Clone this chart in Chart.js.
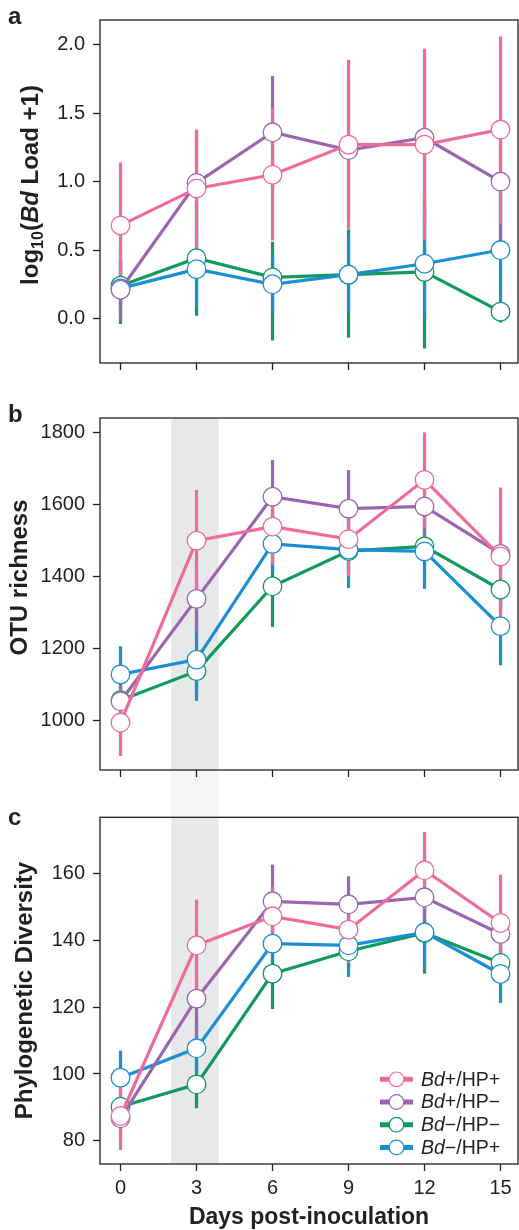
<!DOCTYPE html>
<html>
<head>
<meta charset="utf-8">
<script src="https://cdn.jsdelivr.net/npm/chart.js@4.4.1/dist/chart.umd.min.js"></script>
<style>
  html, body { margin: 0; padding: 0; background: #fff; }
  #wrap { position: relative; width: 519px; height: 1230px; overflow: hidden; }
  canvas { position: absolute; left: 0; }
</style>
</head>
<body>
<div id="wrap">
  <canvas id="chartA" width="519" height="390" style="top:0px"></canvas>
  <canvas id="chartB" width="519" height="400" style="top:390px"></canvas>
  <canvas id="chartC" width="519" height="440" style="top:790px"></canvas>
</div>
<script>
const days = [0, 3, 6, 9, 12, 15];

// series order: Bd+/HP+, Bd+/HP-, Bd-/HP-, Bd-/HP+
const seriesNames = ['Bd+/HP+', 'Bd+/HP\u2212', 'Bd\u2212/HP\u2212', 'Bd\u2212/HP+'];
const legendTail = ['+/HP+', '+/HP\u2212', '\u2212/HP\u2212', '\u2212/HP+'];
const colors = ['#ef6b9b', '#9a66b0', '#109a5d', '#1b8fd2'];
const drawOrder = [0, 1, 3, 2];     // chart.js: lower = on top
const barOrder = [2, 3, 1, 0];      // error bars, first = bottom

// panel a: log10(Bd load + 1)
const aTicks = [0, 0.5, 1.0, 1.5, 2.0];
const aPink = [0.68, 0.95, 1.05, 1.27, 1.27, 1.38];
const aPinkLo = [0.22, 0.51, 0.57, 0.65, 0.57, 0.69];
const aPinkHi = [1.14, 1.38, 1.54, 1.89, 1.97, 2.06];
const aPurple = [0.21, 0.99, 1.36, 1.23, 1.32, 1.00];
const aPurpleLo = [-0.02, 0.61, 0.95, 0.73, 0.72, 0.56];
const aPurpleHi = [0.43, 1.37, 1.77, 1.73, 1.92, 1.45];
const aGreen = [0.24, 0.44, 0.30, 0.32, 0.34, 0.05];
const aGreenLo = [-0.04, 0.02, -0.16, -0.14, -0.22, -0.03];
const aGreenHi = [0.52, 0.85, 0.56, 0.65, 0.89, 0.12];
const aBlue = [0.22, 0.36, 0.25, 0.32, 0.40, 0.50];
const aBlueLo = [0.02, 0.08, 0.04, 0.04, 0.00, 0.09];
const aBlueHi = [0.42, 0.63, 0.47, 0.62, 0.80, 0.91];

// panel b: OTU richness
const bTicks = [1000, 1200, 1400, 1600, 1800];
const bPink = [993, 1499, 1538, 1503, 1668, 1455];
const bPinkLo = [900, 1359, 1432, 1400, 1535, 1263];
const bPinkHi = [1085, 1640, 1644, 1606, 1800, 1647];
const bPurple = [1052, 1337, 1621, 1588, 1594, 1462];
const bPurpleLo = [1007, 1243, 1519, 1481, 1510, 1412];
const bPurpleHi = [1097, 1430, 1723, 1695, 1677, 1512];
const bGreen = [1055, 1136, 1372, 1470, 1483, 1363];
const bGreenLo = [1015, 1086, 1259, 1410, 1428, 1303];
const bGreenHi = [1095, 1186, 1485, 1530, 1538, 1423];
const bBlue = [1127, 1168, 1490, 1474, 1469, 1261];
const bBlueLo = [1049, 1053, 1410, 1367, 1365, 1152];
const bBlueHi = [1205, 1283, 1570, 1580, 1572, 1370];

// panel c: phylogenetic diversity
const cTicks = [80, 100, 120, 140, 160];
const cPink = [87.4, 138.6, 147.3, 143.3, 161.1, 145.3];
const cPinkLo = [77.2, 124.9, 138.5, 133.3, 149.6, 130.8];
const cPinkHi = [97.6, 152.3, 156.1, 153.3, 172.6, 159.8];
const cPurple = [86.7, 122.6, 151.8, 150.9, 153.0, 142.0];
const cPurpleLo = [81.7, 110.2, 140.8, 142.5, 145.0, 136.0];
const cPurpleHi = [91.7, 135.0, 162.8, 159.3, 161.0, 148.0];
const cGreen = [90.2, 96.9, 130.1, 136.8, 142.3, 133.3];
const cGreenLo = [86.2, 89.7, 119.5, 131.8, 130.1, 128.3];
const cGreenHi = [94.2, 104.1, 140.7, 141.8, 154.5, 138.3];
const cBlue = [98.9, 107.7, 139.1, 138.6, 142.5, 130.0];
const cBlueLo = [90.8, 100.0, 133.5, 129.1, 131.3, 121.3];
const cBlueHi = [107.0, 115.4, 144.7, 148.1, 153.7, 138.7];

// shaded sampling window (days)
const bandDays = [2, 3.875];

const FONT = "'Liberation Sans', Arial, Helvetica, sans-serif";
const INK = '#231f20';
Chart.defaults.font.family = FONT;
Chart.defaults.color = INK;

// grey window + faint continuation between b and c
const bandPlugin = {
  id: 'band',
  beforeDraw(chart, args, opts) {
    if (!opts.show) return;
    const {ctx, chartArea: ca, scales: {x}} = chart;
    const x0 = x.getPixelForValue(bandDays[0]);
    const x1 = x.getPixelForValue(bandDays[1]);
    ctx.save();
    ctx.fillStyle = '#e7e8ea';
    ctx.fillRect(x0, ca.top, x1 - x0, ca.bottom - ca.top);
    ctx.fillStyle = '#f6f6f7';
    if (opts.down) ctx.fillRect(x0, ca.bottom, x1 - x0, chart.height - ca.bottom);
    if (opts.up) ctx.fillRect(x0, 0, x1 - x0, ca.top);
    ctx.restore();
  }
};

const errorBarPlugin = {
  id: 'errbars',
  beforeDatasetsDraw(chart, args, opts) {
    const {ctx, scales: {x, y}} = chart;
    ctx.save();
    ctx.lineWidth = 3.2;
    barOrder.forEach(s => {
      ctx.strokeStyle = colors[s];
      days.forEach((d, j) => {
        const px = x.getPixelForValue(d);
        ctx.beginPath();
        ctx.moveTo(px, y.getPixelForValue(opts.lo[s][j]));
        ctx.lineTo(px, y.getPixelForValue(opts.hi[s][j]));
        ctx.stroke();
      });
    });
    ctx.restore();
  }
};

const framePlugin = {
  id: 'frame',
  afterDraw(chart, args, opts) {
    const {ctx, chartArea: ca} = chart;
    ctx.save();
    ctx.strokeStyle = INK;
    ctx.lineWidth = 1.3;
    ctx.strokeRect(ca.left, ca.top, ca.right - ca.left, ca.bottom - ca.top);

    // panel letter
    ctx.fillStyle = INK;
    ctx.font = `bold 24px ${FONT}`;
    ctx.textBaseline = 'alphabetic';
    ctx.textAlign = 'left';
    ctx.fillText(opts.letter, 8, opts.letterY);

    // rotated y title built from styled pieces
    ctx.translate(opts.titleX, opts.titleY);
    ctx.rotate(-Math.PI / 2);
    let total = 0;
    opts.title.forEach(p => { ctx.font = p.font; total += ctx.measureText(p.text).width; });
    let cx = -total / 2;
    opts.title.forEach(p => {
      ctx.font = p.font;
      ctx.fillText(p.text, cx, p.dy || 0);
      cx += ctx.measureText(p.text).width;
    });
    ctx.restore();
  }
};

const legendPlugin = {
  id: 'sideLegend',
  afterDraw(chart, args, opts) {
    if (!opts.show) return;
    const {ctx} = chart;
    ctx.save();
    seriesNames.forEach((name, i) => {
      const yy = opts.y0 + i * opts.step;
      ctx.strokeStyle = colors[i];
      ctx.lineWidth = 5;
      ctx.beginPath();
      ctx.moveTo(opts.x0, yy);
      ctx.lineTo(opts.x0 + 33, yy);
      ctx.stroke();
      ctx.beginPath();
      ctx.arc(opts.x0 + 16.5, yy, 7.3, 0, Math.PI * 2);
      ctx.fillStyle = '#fff';
      ctx.fill();
      ctx.lineWidth = 1.2;
      ctx.stroke();
      ctx.fillStyle = INK;
      ctx.textBaseline = 'middle';
      ctx.font = `italic 19.5px ${FONT}`;
      ctx.fillText('Bd', opts.x0 + 41, yy + 1);
      const w = ctx.measureText('Bd').width;
      ctx.font = `19.5px ${FONT}`;
      ctx.fillText(legendTail[i], opts.x0 + 41 + w, yy + 1);
    });
    ctx.restore();
  }
};

function makePanel(id, p) {
  const datasets = p.means.map((m, i) => ({
    label: seriesNames[i],
    data: days.map((d, j) => ({x: d, y: m[j]})),
    borderColor: colors[i],
    borderWidth: 3.2,
    pointRadius: 9.3,
    pointBackgroundColor: '#fff',
    pointBorderColor: colors[i],
    pointBorderWidth: 1.3,
    tension: 0,
    order: drawOrder[i]
  }));
  return new Chart(document.getElementById(id), {
    type: 'line',
    data: {datasets},
    plugins: [bandPlugin, errorBarPlugin, framePlugin, legendPlugin],
    options: {
      responsive: false,
      animation: false,
      devicePixelRatio: 1,
      layout: {autoPadding: false, padding: {top: p.padTop, right: 1, left: 0, bottom: 0}},
      scales: {
        x: {
          type: 'linear',
          min: -0.81, max: 15.69,
          afterBuildTicks: s => { s.ticks = days.map(v => ({value: v})); },
          afterFit: s => { s.height = p.xHeight; },
          grid: {drawOnChartArea: false, drawTicks: true, tickLength: 7, tickColor: INK, tickWidth: 1.3},
          border: {display: false},
          ticks: {display: p.showX, font: {size: 20}, color: INK, padding: 5},
          title: {
            display: p.showX, text: 'Days post-inoculation', color: INK,
            font: {size: 23, weight: 'bold', lineHeight: 1.1}, padding: {top: 0, bottom: 0}
          }
        },
        y: {
          type: 'linear',
          min: p.yMin, max: p.yMax,
          afterBuildTicks: s => { s.ticks = p.yTicks.map(v => ({value: v})); },
          afterFit: s => { s.width = 100; },
          grid: {drawOnChartArea: false, drawTicks: true, tickLength: 7, tickColor: INK, tickWidth: 1.3},
          border: {display: false},
          ticks: {font: {size: 20}, color: INK, padding: 8, callback: p.fmt}
        }
      },
      plugins: {
        legend: {display: false},
        tooltip: {enabled: false},
        band: p.band,
        errbars: {lo: p.lo, hi: p.hi},
        frame: {letter: p.letter, letterY: p.letterY, title: p.title, titleX: p.titleX, titleY: p.titleY},
        sideLegend: p.legend
      }
    }
  });
}

const B = `bold 24px ${FONT}`;

makePanel('chartA', {
  means: [aPink, aPurple, aGreen, aBlue],
  lo: [aPinkLo, aPurpleLo, aGreenLo, aBlueLo],
  hi: [aPinkHi, aPurpleHi, aGreenHi, aBlueHi],
  yMin: -0.325, yMax: 2.18, yTicks: aTicks, fmt: v => v.toFixed(1),
  padTop: 15, xHeight: 27, showX: false,
  band: {show: false},
  letter: 'a', letterY: 24,
  title: [
    {text: 'log', font: B},
    {text: '10', font: `bold 16px ${FONT}`, dy: 5},
    {text: '(', font: B},
    {text: 'Bd', font: `italic bold 24px ${FONT}`},
    {text: ' Load +1)', font: B}
  ],
  titleX: 38, titleY: 185,
  legend: {show: false}
});

makePanel('chartB', {
  means: [bPink, bPurple, bGreen, bBlue],
  lo: [bPinkLo, bPurpleLo, bGreenLo, bBlueLo],
  hi: [bPinkHi, bPurpleHi, bGreenHi, bBlueHi],
  yMin: 861, yMax: 1840, yTicks: bTicks, fmt: v => String(v),
  padTop: 28, xHeight: 19.3, showX: false,
  band: {show: true, down: true},
  letter: 'b', letterY: 31.7,
  title: [{text: 'OTU richness', font: B}],
  titleX: 27, titleY: 187.5,
  legend: {show: false}
});

makePanel('chartC', {
  means: [cPink, cPurple, cGreen, cBlue],
  lo: [cPinkLo, cPurpleLo, cGreenLo, cBlueLo],
  hi: [cPinkHi, cPurpleHi, cGreenHi, cBlueHi],
  yMin: 73, yMax: 177, yTicks: cTicks, fmt: v => String(v),
  padTop: 27.3, xHeight: 66, showX: true,
  band: {show: true, up: true},
  letter: 'c', letterY: 35,
  title: [{text: 'Phylogenetic Diversity', font: B}],
  titleX: 32, titleY: 200.5,
  legend: {show: true, x0: 380, y0: 289.3, step: 22.7}
});
</script>
</body>
</html>
